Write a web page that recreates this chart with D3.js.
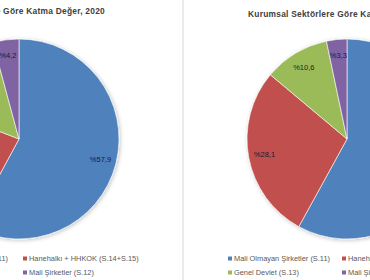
<!DOCTYPE html>
<html>
<head>
<meta charset="utf-8">
<script src="https://cdn.jsdelivr.net/npm/d3@7"></script>
<style>
  body { margin: 0; background: #fff; }
  svg { display: block; font-family: "Liberation Sans", Arial, sans-serif; }
</style>
</head>
<body>
<svg id="chart" width="370" height="280"></svg>
<script>
// sectors and shares (%)
const sectors = [
  'Mali Olmayan Şirketler (S.11)',
  'Hanehalkı + HHKOK (S.14+S.15)',
  'Genel Devlet (S.13)',
  'Mali Şirketler (S.12)'
];
const colors = ['#4f81bd', '#c0504d', '#9bbb59', '#8064a2'];
const leftValues = [57.9, 23.0, 14.9, 4.2];
const rightValues = [58.0, 28.1, 10.6, 3.3];
const titles = [
  'Kurumsal Sektörlere Göre Katma Değer, 2020',
  'Kurumsal Sektörlere Göre Katma Değer, 2021'
];

const svg = d3.select('#chart');

// soft shadow round the pies
const defs = svg.append('defs');
const f = defs.append('filter').attr('id', 'shadow')
  .attr('x', '-20%').attr('y', '-20%').attr('width', '140%').attr('height', '140%');
f.append('feGaussianBlur').attr('in', 'SourceAlpha').attr('stdDeviation', 2);
f.append('feOffset').attr('dx', 1).attr('dy', 1).attr('result', 'blur');
f.append('feComponentTransfer').append('feFuncA').attr('type', 'linear').attr('slope', 0.25);
const merge = f.append('feMerge');
merge.append('feMergeNode');
merge.append('feMergeNode').attr('in', 'SourceGraphic');

// divider between the two panels
svg.append('line')
  .attr('x1', 183).attr('x2', 183).attr('y1', 0).attr('y2', 280)
  .attr('stroke', '#e4e4e4').attr('stroke-width', 1.5);

const R = 100;
const pie = d3.pie().sort(null).value(d => d);
const arc = d3.arc().innerRadius(0).outerRadius(R);
const labelArc = d3.arc().innerRadius(R * 0.84).outerRadius(R * 0.84);
const fmt = v => '%' + v.toFixed(1).replace('.', ',');

function drawPanel(values, opts) {
  const g = svg.append('g').attr('transform', `translate(${opts.cx},${opts.cy})`);

  g.append('g').attr('filter', 'url(#shadow)')
    .selectAll('path')
    .data(pie(values))
    .join('path')
    .attr('d', arc)
    .attr('fill', (d, i) => colors[i])
    .attr('stroke', '#fff')
    .attr('stroke-width', 0.6);

  g.selectAll('text.lbl')
    .data(pie(values))
    .join('text')
    .attr('class', 'lbl')
    .attr('transform', d => `translate(${labelArc.centroid(d)})`)
    .attr('text-anchor', 'middle')
    .attr('dy', '0.35em')
    .attr('font-size', 7.5)
    .attr('fill', '#1b1b2e')
    .text(d => fmt(d.data));

  svg.append('text')
    .attr('x', opts.titleX)
    .attr('y', opts.titleY)
    .attr('text-anchor', opts.titleAnchor)
    .attr('font-size', 8.4)
    .attr('letter-spacing', 0.25)
    .attr('font-weight', 'bold')
    .attr('fill', '#404040')
    .text(opts.title);

  // legend, two columns by two rows
  const leg = svg.append('g');
  const cols = [opts.col1, opts.col2];
  const items = leg.selectAll('g')
    .data(sectors)
    .join('g')
    .attr('transform', (d, i) => `translate(${cols[i % 2]},${i < 2 ? 259 : 273})`);
  items.append('rect')
    .attr('x', 0).attr('y', -2.5).attr('width', 4).attr('height', 4)
    .attr('fill', (d, i) => colors[i]);
  items.append('text')
    .attr('x', 6).attr('dy', '0.32em')
    .attr('font-family', '"Liberation Sans Narrow", "Liberation Sans", sans-serif')
    .attr('font-size', 7.4)
    .attr('fill', '#595959')
    .text(d => d);
}

drawPanel(leftValues, {
  cx: 19, cy: 139, title: titles[0],
  titleX: 105, titleY: 14, titleAnchor: 'end',
  col1: -94, col2: 23
});
drawPanel(rightValues, {
  cx: 347, cy: 139, title: titles[1],
  titleX: 248, titleY: 17, titleAnchor: 'start',
  col1: 228, col2: 342
});
</script>
</body>
</html>
